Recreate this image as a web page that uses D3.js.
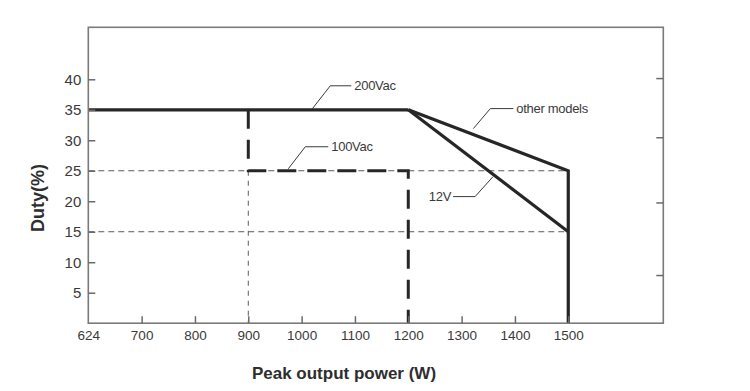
<!DOCTYPE html>
<html>
<head>
<meta charset="utf-8">
<script src="https://cdn.jsdelivr.net/npm/d3@7"></script>
<style>
  body { margin: 0; background: #fff; }
  svg { display: block; }
</style>
</head>
<body>
<svg id="chart" width="750" height="391"></svg>
<script>
// ---- data ----
const xTickValues = [624, 700, 800, 900, 1000, 1100, 1200, 1300, 1400, 1500];
const yTickValues = [5, 10, 15, 20, 25, 30, 35, 40];
const rightTickValues = [40.2, 30.5, 19.8, 7.9];

// 200Vac curve (solid): flat part
const vac200X = [624, 1200];
const vac200Y = [35, 35];
// other models branch (solid), ending with the vertical limit at 1500 W
const otherX = [1200, 1500, 1500];
const otherY = [35, 25, 0];
// 12V branch (solid)
const v12X = [1200, 1500];
const v12Y = [35, 15];
// 100Vac curve (thick dashed)
const vac100X = [900, 900, 1200, 1200];
const vac100Y = [35, 25, 25, 0];
// thin dashed reference lines
const ref25X = [624, 1500], ref25Y = [25, 25];
const ref15X = [624, 1500], ref15Y = [15, 15];
const ref900X = [900, 900], ref900Y = [25, 0];

const labels = ["200Vac", "100Vac", "other models", "12V"];
const labelAnchorX = [1020, 975, 1322, 1359];
const labelAnchorY = [35, 25, 30.93, 24.37];

// ---- layout ----
const svg = d3.select("#chart");
const margin = { left: 88.3, top: 27.3 };
const W = 575, H = 295.9;
const g = svg.append("g").attr("transform", `translate(${margin.left},${margin.top})`);

const pxPer100 = 53.33;
const x = d3.scaleLinear()
  .domain([624, 700, 700 + (W - pxPer100) / pxPer100 * 100])
  .range([0, pxPer100, W]);
const y = d3.scaleLinear().domain([0, H / 6.0975]).range([H, 0]);

const zip = (xs, ys) => xs.map((v, i) => [v, ys[i]]);
const line = d3.line().x(d => x(d[0])).y(d => y(d[1]));

// thin dashed reference lines
[[ref25X, ref25Y], [ref15X, ref15Y]].forEach(([xs, ys]) => {
  g.append("path").attr("d", line(zip(xs, ys)))
    .attr("fill", "none").attr("stroke", "#5a5a5a").attr("stroke-width", 1)
    .attr("stroke-dasharray", "6,4");
});
g.append("path").attr("d", line(zip(ref900X, ref900Y)))
  .attr("fill", "none").attr("stroke", "#5a5a5a").attr("stroke-width", 1)
  .attr("stroke-dasharray", "5,5");

// thick dashed 100Vac
g.append("path").attr("d", line(zip(vac100X, vac100Y)))
  .attr("fill", "none").attr("stroke", "#262626").attr("stroke-width", 3)
  .attr("stroke-dasharray", "19,11");

// solid curves
[[vac200X, vac200Y], [otherX, otherY], [v12X, v12Y]].forEach(([xs, ys]) => {
  g.append("path").attr("d", line(zip(xs, ys)))
    .attr("fill", "none").attr("stroke", "#262626").attr("stroke-width", 3.2)
    .attr("stroke-linejoin", "miter");
});

// frame
g.append("rect").attr("x", 0).attr("y", 0).attr("width", W).attr("height", H)
  .attr("fill", "none").attr("stroke", "#7a7a7a").attr("stroke-width", 1.6);

const tickFont = "'Liberation Sans', Arial, sans-serif";
// axes with inward ticks
const xAxis = g.append("g").attr("transform", `translate(0,${H})`)
  .call(d3.axisBottom(x).tickValues(xTickValues).tickSizeInner(-7).tickSizeOuter(0).tickPadding(14).tickFormat(d3.format("d")));
const yAxis = g.append("g")
  .call(d3.axisLeft(y).tickValues(yTickValues).tickSizeInner(-7).tickSizeOuter(0).tickPadding(10).tickFormat(d3.format("d")));
const rAxis = g.append("g").attr("transform", `translate(${W},0)`)
  .call(d3.axisRight(y).tickValues(rightTickValues).tickSizeInner(-7).tickSizeOuter(0).tickFormat(""));
[xAxis, yAxis, rAxis].forEach(a => {
  a.select(".domain").remove();
  a.selectAll(".tick line").attr("stroke", "#6a6a6a").attr("stroke-width", 1.5);
  a.selectAll(".tick text").attr("fill", "#3a3a3a").attr("font-family", tickFont);
});
xAxis.selectAll(".tick text").attr("font-size", 13.5).attr("dy", "0.2em");
yAxis.selectAll(".tick text").attr("font-size", 15).attr("dx", "3");
xAxis.selectAll(".tick").filter(d => d === 624).select("line").remove();

// annotations with leader lines (offsets in px relative to anchor on curve)
const leaderOffsets = [
  { pts: [[0, -1], [18, -24], [39, -24]], tx: 42, anchor: "start" },
  { pts: [[0, -2], [17, -24], [40, -24]], tx: 43, anchor: "start" },
  { pts: [[0, -6], [17, -26], [40, -26]], tx: 43, anchor: "start" },
  { pts: [[0, 2], [-18, 22], [-40, 22]], tx: -42, anchor: "end" }
];
labels.forEach((lab, i) => {
  const ax = x(labelAnchorX[i]), ay = y(labelAnchorY[i]);
  const o = leaderOffsets[i];
  g.append("path")
    .attr("d", d3.line()(o.pts.map(p => [ax + p[0], ay + p[1]])))
    .attr("fill", "none").attr("stroke", "#3a3a3a").attr("stroke-width", 1);
  const last = o.pts[o.pts.length - 1];
  g.append("text").attr("x", ax + o.tx).attr("y", ay + last[1])
    .attr("dy", "0.35em").attr("text-anchor", o.anchor)
    .attr("font-family", tickFont).attr("font-size", 13).attr("fill", "#3a3a3a")
    .attr("letter-spacing", "-0.3")
    .text(lab);
});

// axis titles
svg.append("text").attr("x", 344).attr("y", 379).attr("text-anchor", "middle")
  .attr("font-family", tickFont).attr("font-weight", "bold").attr("font-size", 17)
  .attr("fill", "#2e2e2e").text("Peak output power (W)");
svg.append("text").attr("transform", "translate(44,198) rotate(-90)")
  .attr("text-anchor", "middle")
  .attr("font-family", tickFont).attr("font-weight", "bold").attr("font-size", 18)
  .attr("fill", "#2e2e2e").text("Duty(%)");
</script>
</body>
</html>
